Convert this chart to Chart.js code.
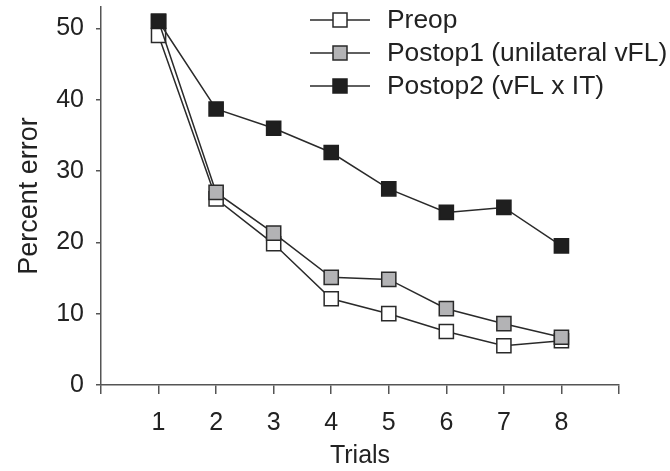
<!DOCTYPE html>
<html><head><meta charset="utf-8">
<script src="https://cdn.jsdelivr.net/npm/chart.js@4/dist/chart.umd.min.js"></script>
<style>html,body{margin:0;padding:0;background:#fff}#wrap{width:670px;height:471px}</style>
</head><body><div id="wrap"><canvas id="c" width="670" height="471"></canvas></div>
<script>
const trials = [1,2,3,4,5,6,7,8];
const seriesNames = ['Preop','Postop1 (unilateral vFL)','Postop2 (vFL x IT)'];
const preop = [49,26.1,19.8,12.1,10,7.5,5.5,6.2];
const postop1 = [51,27,21.3,15.1,14.8,10.7,8.6,6.7];
const postop2 = [51,38.7,36,32.6,27.5,24.2,24.9,19.5];
const yTickValues = [0,10,20,30,40,50];
const xTickLabels = ['1','2','3','4','5','6','7','8'];

const FONT = '"Liberation Sans", Arial, sans-serif';
const LINE = '#2a2a2a';
const fills = ['#ffffff','#b3b3b5','#1f1f1f'];
const seriesValues = [preop, postop1, postop2];

const datasets = seriesValues.map((vals, i) => ({
  label: seriesNames[i],
  data: trials.map((t, j) => ({x: t, y: vals[j]})),
  borderColor: LINE,
  borderWidth: 1.5,
  pointStyle: 'rect',
  pointRadius: 10,
  pointBorderWidth: 1.5,
  pointBackgroundColor: fills[i],
  pointBorderColor: i === 2 ? '#1f1f1f' : '#2a2a2a',
  order: 2 - i,
  clip: false,
  tension: 0
}));

const legendPlugin = {
  id: 'customLegend',
  afterDraw(chart) {
    const ctx = chart.ctx;
    ctx.save();
    chart.data.datasets.forEach((ds, i) => {
      const y = 20 + i * 33;
      ctx.strokeStyle = ds.borderColor;
      ctx.lineWidth = 1.5;
      ctx.beginPath(); ctx.moveTo(310, y); ctx.lineTo(370, y); ctx.stroke();
      const s = 14;
      ctx.fillStyle = ds.pointBackgroundColor;
      ctx.fillRect(340 - s/2, y - s/2, s, s);
      ctx.strokeStyle = ds.pointBorderColor;
      ctx.lineWidth = 1.5;
      ctx.strokeRect(340 - s/2, y - s/2, s, s);
      ctx.fillStyle = '#222';
      ctx.font = '26.4px ' + FONT;
      ctx.textBaseline = 'middle';
      ctx.textAlign = 'left';
      ctx.fillText(ds.label, 387, y + 1);
    });
    ctx.restore();
  }
};

new Chart(document.getElementById('c'), {
  type: 'line',
  data: { datasets },
  options: {
    responsive: false,
    animation: false,
    devicePixelRatio: 1,
    layout: { autoPadding: false, padding: { left: 0, right: 51, top: 7, bottom: 0 } },
    plugins: { legend: { display: false }, tooltip: { enabled: false } },
    scales: {
      x: {
        type: 'linear', min: 0, max: 9,
        afterFit: s => { s.height = 86; s.paddingLeft = 0; s.paddingRight = 0; },
        afterBuildTicks: s => { s.ticks = Array.from({length: 10}, (_, k) => ({value: k})); },
        ticks: {
          autoSkip: false, padding: 14, color: '#222',
          font: { family: FONT, size: 25 },
          callback: v => (v >= 1 && v <= 8) ? xTickLabels[v - 1] : ''
        },
        grid: { drawOnChartArea: false, drawTicks: true, tickLength: 9, color: '#555', lineWidth: 1.5 },
        border: { display: true, color: '#555', width: 1.5 },
        title: { display: true, text: 'Trials', color: '#222', font: { family: FONT, size: 25 }, padding: { top: 0, bottom: 0 } }
      },
      y: {
        type: 'linear', min: 0, max: 53,
        afterFit: s => { s.width = 101; s.paddingTop = 0; s.paddingBottom = 0; },
        afterBuildTicks: s => { s.ticks = yTickValues.map(v => ({value: v})); },
        ticks: { padding: 12, color: '#222', font: { family: FONT, size: 25 } },
        grid: { drawOnChartArea: false, drawTicks: true, tickLength: 5, color: '#555', lineWidth: 1.5 },
        border: { display: true, color: '#555', width: 1.5 },
        title: { display: true, text: 'Percent error', color: '#222', font: { family: FONT, size: 27 }, padding: { top: 13, bottom: 0 } }
      }
    }
  },
  plugins: [legendPlugin]
});
</script>
</body></html>
